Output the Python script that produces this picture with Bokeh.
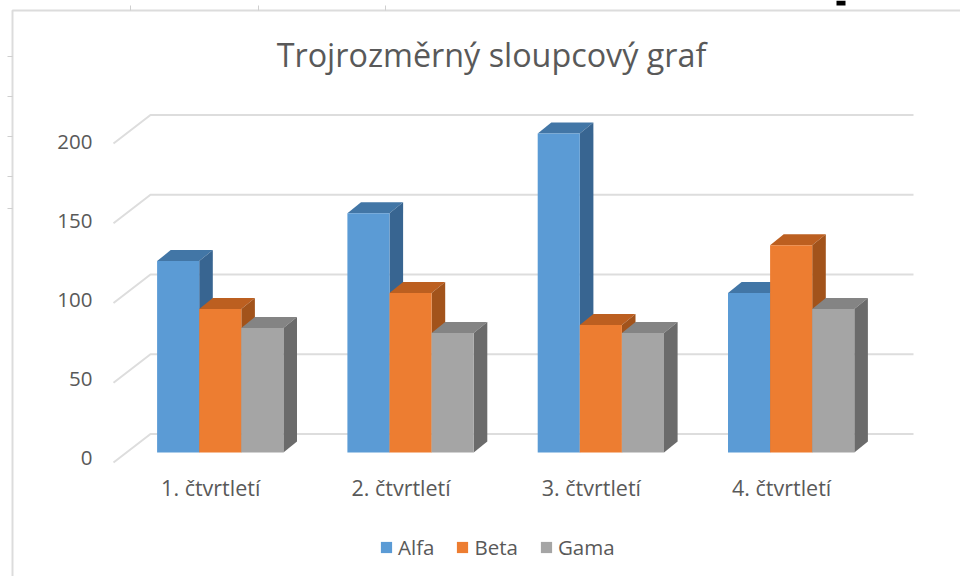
from bokeh.plotting import figure
from bokeh.models import Range1d, LinearAxis, FixedTicker, Legend, LegendItem
from bokeh.embed import file_html
from bokeh.resources import INLINE

quarters = ["1. čtvrtletí", "2. čtvrtletí", "3. čtvrtletí", "4. čtvrtletí"]
alfa = [120, 150, 200, 100]
beta = [90, 100, 80, 130]
gama = [78, 75, 75, 90]
series_names = ["Alfa", "Beta", "Gama"]
y_ticks = [0, 50, 100, 150, 200]

front = ["#5B9BD5", "#ED7D31", "#A5A5A5"]
top = ["#4276A6", "#BC5F20", "#848484"]
side = ["#386591", "#A2531B", "#6B6B6B"]
series = [alfa, beta, gama]

W, H = 960, 576
GROUP = 190.3
UNIT = 1.595
X0 = 156.6          # screen x of the first bar
Y0 = 452.0          # screen y of value 0

def X(px):
    return (px - X0) / GROUP

def Y(py):
    return (Y0 - py) / UNIT

p = figure(width=W, height=H, output_backend="svg", toolbar_location=None, min_border=0,
           x_range=Range1d(X(0), X(W)), y_range=Range1d(Y(H), Y(0)),
           background_fill_color="white", border_fill_color="white", outline_line_color=None)
p.xaxis.visible = False
p.yaxis.visible = False
p.grid.visible = False

# Chart frame and the ruler ticks around it
frame_col = "#DCDCDC"
p.line([X(12), X(12), X(W)], [Y(H), Y(10), Y(10)], line_color=frame_col, line_width=2)
for ty in [56, 96, 136, 176, 208]:
    p.line([X(7), X(12)], [Y(ty), Y(ty)], line_color="#CFCFCF", line_width=1)
for tx in [130, 258, 385]:
    p.line([X(tx), X(tx)], [Y(5), Y(10)], line_color="#CFCFCF", line_width=1)
p.quad(left=[X(836)], right=[X(845)], bottom=[Y(5)], top=[Y(0)], fill_color="black", line_color=None)

# Wall and floor gridlines
LEFT, CORNER, RIGHT = X(113), X(150), X(913)
gx, gy = [], []
for t in y_ticks:
    gx.append([LEFT, CORNER, RIGHT])
    gy.append([t - 10 / UNIT, t + 18.5 / UNIT, t + 18.5 / UNIT])
p.multi_line(gx, gy, line_color="#DDDDDD", line_width=2)

# Bars
BAR = 42.1 / GROUP
DX = 13.6 / GROUP
DY = 11 / UNIT
legend_items = []
for s, vals in enumerate(series):
    x0 = [i + s * BAR for i in range(len(vals))]
    x1 = [x + BAR for x in x0]
    p.patches([[a, a + DX, b + DX, b] for a, b in zip(x0, x1)],
              [[v, v + DY, v + DY, v] for v in vals],
              fill_color=top[s], line_color=None)
    p.patches([[b, b + DX, b + DX, b] for b in x1],
              [[0, DY, v + DY, v] for v in vals],
              fill_color=side[s], line_color=None)
    r = p.quad(left=x0, right=x1, bottom=[0] * len(vals), top=vals,
               fill_color=front[s], line_color=None)
    legend_items.append(LegendItem(label=series_names[s], renderers=[r]))

# Axes
label_col = "#595959"
LAB0, LABU = 457.0, 1.58
p.extra_y_ranges["labels"] = Range1d((LAB0 - H) / LABU, LAB0 / LABU)
p.extra_x_ranges["labels"] = Range1d(p.x_range.start + 9.5 / GROUP, p.x_range.end + 9.5 / GROUP)

y_axis = LinearAxis(y_range_name="labels", fixed_location=X(96),
                    ticker=FixedTicker(ticks=y_ticks), axis_line_color=None,
                    major_tick_line_color=None, minor_tick_line_color=None,
                    major_tick_out=0, major_tick_in=0,
                    major_label_text_font="Open Sans", major_label_text_font_size="20.5px",
                    major_label_text_color=label_col, major_label_standoff=4)
p.add_layout(y_axis, "left")

centers = [i + 1.5 * BAR for i in range(len(quarters))]
x_axis = LinearAxis(x_range_name="labels", fixed_location=Y(470),
                    ticker=FixedTicker(ticks=centers),
                    major_label_overrides={c: q for c, q in zip(centers, quarters)},
                    axis_line_color=None, major_tick_line_color=None, minor_tick_line_color=None,
                    major_tick_out=0, major_tick_in=0,
                    major_label_text_font="Open Sans", major_label_text_font_size="21.5px",
                    major_label_text_color=label_col, major_label_standoff=2)
p.add_layout(x_axis, "below")

# Title
p.text(x=[X(491)], y=[Y(53)], text=["Trojrozměrný sloupcový graf"], text_font_size="32.3px",
       text_color=label_col, text_align="center", text_baseline="middle",
       text_font={"value": "Open Sans"})

legend = Legend(items=legend_items, orientation="horizontal", location=(379, 15),
                background_fill_alpha=0, border_line_color=None,
                glyph_width=14, glyph_height=14, label_standoff=5, spacing=21,
                label_text_font="Open Sans", label_text_font_size="20.5px", label_text_color=label_col,
                margin=0, padding=0)
p.add_layout(legend, "center")

open("out.html", "w").write(file_html(p, INLINE))
